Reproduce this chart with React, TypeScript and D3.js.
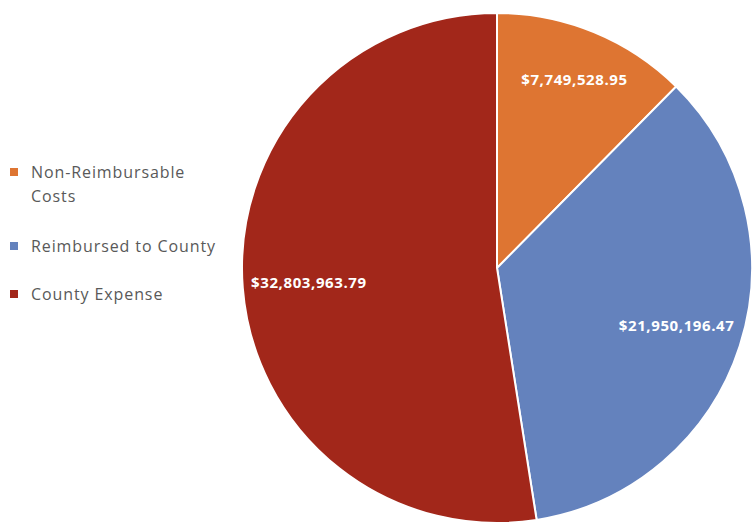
import { useRef, useEffect } from 'react'
import * as d3 from 'd3'

const categories = ['Non-Reimbursable Costs', 'Reimbursed to County', 'County Expense']
const legendLines = [['Non-Reimbursable', 'Costs'], ['Reimbursed to County'], ['County Expense']]
const values = [7749528.95, 21950196.47, 32803963.79]
const colors = ['#DE7532', '#6482BD', '#A2271A']

export default function App() {
  const svgRef = useRef<SVGSVGElement>(null)

  useEffect(() => {
    if (!svgRef.current) return
    document.body.style.margin = '0'

    const svg = d3.select(svgRef.current)
    svg.selectAll('*').remove()

    const width = 755
    const height = 525
    const cx = 497
    const cy = 268
    const r = 255
    // label distance from centre, as a share of the radius
    const labelR = [0.8, 0.74, 0.74]

    svg.attr('width', width).attr('height', height)

    const pie = d3
      .pie<number>()
      .sort(null)
      .value((d) => d)
    const arcs = pie(values)

    const arc = d3.arc<d3.PieArcDatum<number>>().innerRadius(0).outerRadius(r)

    const g = svg.append('g').attr('transform', `translate(${cx},${cy})`)

    g.selectAll('path.slice')
      .data(arcs)
      .enter()
      .append('path')
      .attr('class', 'slice')
      .attr('d', arc)
      .attr('fill', (_, i) => colors[i])
      .attr('stroke', '#ffffff')
      .attr('stroke-width', 2)

    const fmt = d3.format(',.2f')
    g.selectAll('text.label')
      .data(arcs)
      .enter()
      .append('text')
      .attr('class', 'label')
      .attr('transform', (d, i) => {
        const lr = r * labelR[i]
        const c = d3.arc<d3.PieArcDatum<number>>().innerRadius(lr).outerRadius(lr).centroid(d)
        return `translate(${c})`
      })
      .attr('text-anchor', 'middle')
      .attr('dy', '0.35em')
      .attr('fill', '#ffffff')
      .attr('font-size', '15px')
      .attr('font-weight', 'bold')
      .attr('letter-spacing', '0.6px')
      .attr('font-family', 'Open Sans, sans-serif')
      .text((d) => `$${fmt(d.data)}`)

    // Legend
    const legendY = [172, 246, 294]
    const legend = svg.append('g')
    categories.forEach((c, i) => {
      const item = legend.append('g').attr('transform', `translate(10,${legendY[i]})`)
      item
        .append('rect')
        .attr('x', 0)
        .attr('y', -4)
        .attr('width', 8)
        .attr('height', 8)
        .attr('fill', colors[i])
      const t = item
        .append('text')
        .attr('fill', '#595959')
        .attr('font-size', '16px')
        .attr('letter-spacing', '0.9px')
        .attr('font-family', 'Open Sans, sans-serif')
        .attr('aria-label', c)
      legendLines[i].forEach((line, j) => {
        t.append('tspan')
          .attr('x', 21)
          .attr('y', j * 24)
          .attr('dy', '0.35em')
          .text(line)
      })
    })
  }, [])

  return <svg ref={svgRef} style={{ display: 'block' }} />
}
